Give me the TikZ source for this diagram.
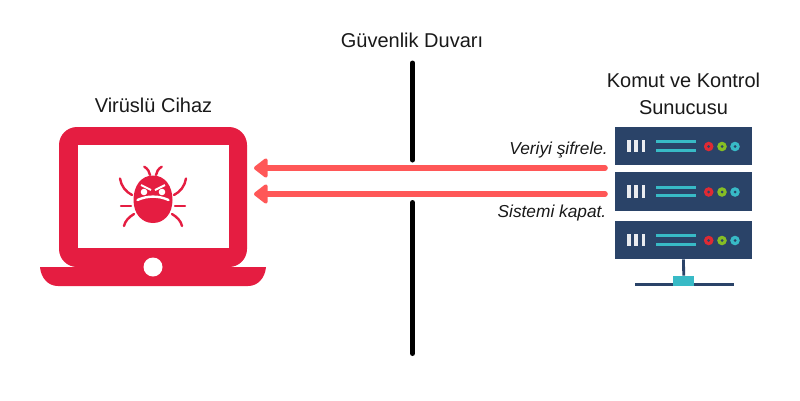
\documentclass[tikz,border=0pt]{standalone}
\usepackage{fontspec}
\setmainfont{Liberation Sans}
\usetikzlibrary{arrows.meta}
\definecolor{laptopred}{HTML}{E51D41}
\definecolor{arrowred}{HTML}{FF5757}
\definecolor{srvblue}{HTML}{2A4368}
\definecolor{srvteal}{HTML}{38BAC6}
\definecolor{ledred}{HTML}{DF2A33}
\definecolor{ledgreen}{HTML}{86BE24}
\tikzset{
	label text/.style={font=\fontsize{20}{27}\selectfont,text=black!90,align=center},
	note text/.style={font=\fontsize{17.3}{20}\selectfont\itshape,text=black!90,anchor=east,inner sep=0pt},
	wall/.style={line width=5pt,line cap=round,black},
	command/.style={line width=5.6pt,line cap=round,arrowred,-{Triangle[length=15pt,width=22pt,round]}},
	srvbox/.style={fill=srvblue,minimum width=137pt,minimum height=38.5pt,inner sep=0pt},
	bugleg/.style={line width=2.4pt,line cap=round,laptopred},
}
\begin{document}
\begin{tikzpicture}[x=1pt,y=-1pt]
	\useasboundingbox (0,0) rectangle (800,400);

	% laptop
	\node[fill=laptopred,rounded corners=18pt,minimum width=188pt,minimum height=140pt,inner sep=0pt] (laptop) at (153,197) {};
	\fill[laptopred] (40,267) .. controls (41,278) and (48,286) .. (58,286) -- (248,286) .. controls (258,286) and (265,278) .. (266,267) -- cycle;
	\node[fill=white,minimum width=151pt,minimum height=103pt,inner sep=0pt] (screen) at (153.5,196.5) {};
	\node[fill=white,circle,minimum size=19pt,inner sep=0pt] (camera) at (153,267) {};

	% bug
	\fill[laptopred] (153,175.5) .. controls (165,175.5) and (172.5,186) .. (172.5,200) .. controls (172.5,214) and (164,223) .. (153,223) .. controls (142,223) and (133.5,214) .. (133.5,200) .. controls (133.5,186) and (141,175.5) .. (153,175.5) -- cycle;
	\foreach \s in {1,-1} {
		\begin{scope}[shift={(153,0)},xscale=\s]
			\draw[bugleg] (8.7,166.7) .. controls (5,169) and (3.5,172) .. (3,175);
			\draw[bugleg] (33,178.5) .. controls (32,186) and (27,192) .. (21,195);
			\draw[bugleg] (22,206) -- (32,206);
			\draw[bugleg] (19,214) .. controls (24,217) and (28,221) .. (29,226);
			\draw[white,line width=2pt] (2,190) -- (12,185);
			\fill[white] (9,192) circle (3.3pt);
		\end{scope}
	}
	\draw[white,line width=2.4pt,line cap=round] (137.5,200) .. controls (147,195.5) and (159,195.5) .. (168.5,200);

	% servers
	\foreach \i/\y in {1/146,2/191.5,3/240} {
		\node[srvbox] (srv\i) at (683.5,\y) {};
		\foreach \x in {629,636,643.5}
			\fill[white!90!srvblue] (\x-1.7,\y-6.3) rectangle (\x+1.7,\y+6.3);
		\foreach \d in {-4.2,4.2}
			\fill[srvteal] (656,\y+\d-1.4) rectangle (696,\y+\d+1.4);
		\foreach \x/\c in {708.7/ledred,722/ledgreen,735/srvteal} {
			\fill[\c] (\x,\y+0.5) circle (4.8pt);
			\fill[srvblue] (\x,\y+0.5) circle (1.5pt);
		}
	}
	\node[fill=srvblue,minimum width=99.5pt,minimum height=3pt,inner sep=0pt] (srvfoot) at (684.3,284.2) {};
	\node[fill=srvteal,minimum width=21.5pt,minimum height=10pt,inner sep=0pt] (srvhub) at (683.7,280.8) {};
	\draw[srvblue,line width=2.8pt] (srv3.south) -- (srvhub.north);

	% firewall
	\coordinate (wallA) at (412.5,63);
	\coordinate (wallB) at (412.5,160);
	\coordinate (wallC) at (412.5,202.5);
	\coordinate (wallD) at (412.5,353.5);
	\draw[wall] (wallA) -- (wallB);
	\draw[wall] (wallC) -- (wallD);

	% commands
	\coordinate (outA) at (605,168);
	\coordinate (inA) at (254,168);
	\coordinate (outB) at (605,194);
	\coordinate (inB) at (254,194);
	\draw[command] (outA) -- (inA);
	\draw[command] (outB) -- (inB);
	\node[note text] (noteA) at (608,150) {Veriyi şifrele.};
	\node[note text] (noteB) at (606.5,213) {Sistemi kapat.};

	% labels
	\node[label text] (wallname) at (412,40) {Güvenlik Duvarı};
	\node[label text] (lapname) at (153.5,105.5) {Virüslü Cihaz};
	\node[label text] (srvname) at (683.5,94) {Komut ve Kontrol\\Sunucusu};
\end{tikzpicture}
\end{document}
